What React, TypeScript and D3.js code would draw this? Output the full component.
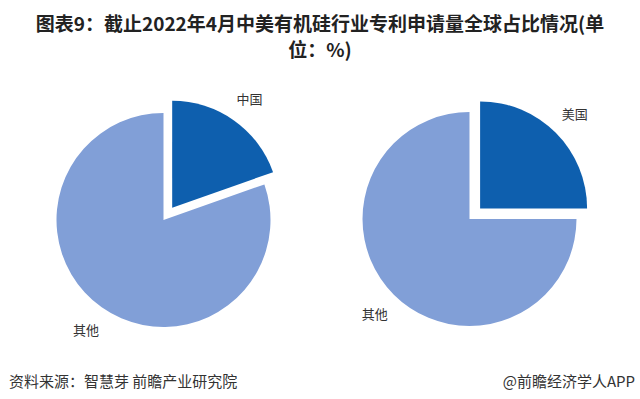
import React from 'react';
import * as d3 from 'd3';

// shares (%)
const leftLabels = ['中国', '其他'];
const leftValues = [19.6, 80.4];
const rightLabels = ['美国', '其他'];
const rightValues = [25, 75];

const titleLines = ['图表9：截止2022年4月中美有机硅行业专利申请量全球占比情况(单', '位：%)'];
const sourceText = '资料来源：智慧芽 前瞻产业研究院';
const brandText = '@前瞻经济学人APP';

const W = 640;
const H = 399;
const radius = 107;
const explode = 15;
const labelRadius = 134;
const colors = ['#0e5fae', '#819fd7'];
const cjk = '"Noto Sans CJK SC", "Noto Sans", sans-serif';

type PieProps = { cx: number; cy: number; labels: string[]; values: number[] };

const Pie = ({ cx, cy, labels, values }: PieProps) => {
  const pie = d3.pie<number>().sort(null).startAngle(0).endAngle(2 * Math.PI);
  const arcs = pie(values);
  const arc = d3.arc<d3.PieArcDatum<number>>().innerRadius(0).outerRadius(radius);

  return (
    <g transform={`translate(${cx},${cy})`}>
      {arcs.map((a, i) => {
        const mid = (a.startAngle + a.endAngle) / 2;
        const off = i === 0 ? explode : 0;
        const dx = Math.sin(mid) * off;
        const dy = -Math.cos(mid) * off;
        const lr = labelRadius + off;
        const lx = Math.sin(mid) * lr;
        const ly = -Math.cos(mid) * lr;
        return (
          <g key={i}>
            <path d={arc(a) || ''} transform={`translate(${dx},${dy})`} fill={colors[i]} />
            <text x={lx} y={ly} textAnchor="middle" dominantBaseline="central"
              fontSize={13} fill="#333" fontFamily={cjk}>{labels[i]}</text>
          </g>
        );
      })}
    </g>
  );
};

export default function App() {
  return (
    <svg width={W} height={H} style={{ position: 'absolute', left: 0, top: 0, background: '#fff' }}>
      <rect width={W} height={H} fill="#fff" />
      {titleLines.map((t, i) => (
        <text key={i} x={320} y={22 + i * 26} textAnchor="middle" dominantBaseline="central"
          fontSize={19} fontWeight="bold" fill="#222" fontFamily={cjk}>{t}</text>
      ))}
      <Pie cx={163.5} cy={220} labels={leftLabels} values={leftValues} />
      <Pie cx={469.5} cy={219} labels={rightLabels} values={rightValues} />
      <text x={9} y={380} dominantBaseline="central" fontSize={15} fill="#333" fontFamily={cjk}>{sourceText}</text>
      <text x={635} y={380} textAnchor="end" dominantBaseline="central" fontSize={15} fill="#333" fontFamily={cjk}>{brandText}</text>
    </svg>
  );
}
